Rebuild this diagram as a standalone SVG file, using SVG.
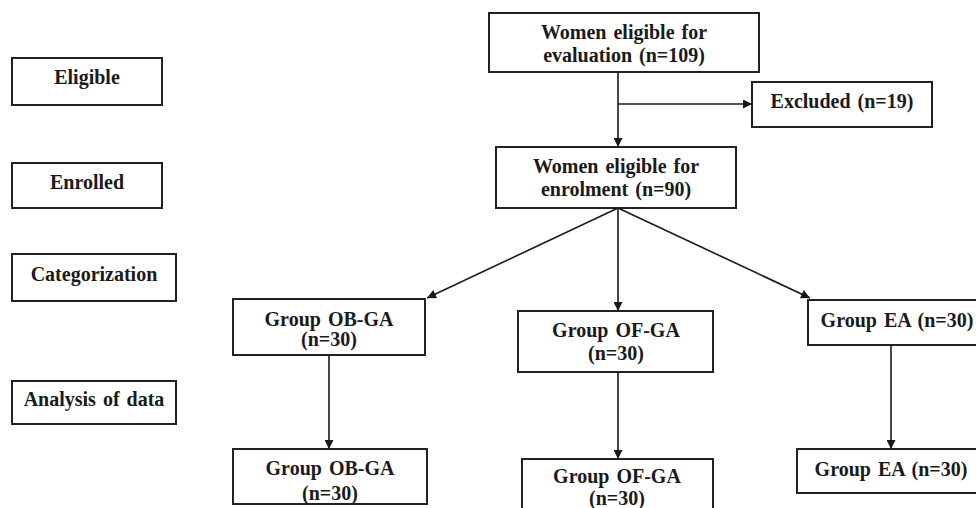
<svg xmlns="http://www.w3.org/2000/svg" width="976" height="508" viewBox="0 0 976 508">
<defs>
<marker id="ah" viewBox="0 0 10 10" refX="10" refY="5" markerWidth="10" markerHeight="9" markerUnits="userSpaceOnUse" orient="auto">
<path d="M0,0 L10,5 L0,10 Z" fill="#1a1a1a"/>
</marker>
</defs>
<style>
rect{fill:#fff;stroke:#222;stroke-width:2}
text{font-family:'Liberation Serif','Times New Roman','DejaVu Serif',serif;font-weight:bold;font-size:20px;fill:#1a1a1a;text-anchor:middle;word-spacing:2px}
.c line{stroke:#1a1a1a;stroke-width:1.6;marker-end:url(#ah)}
</style>
<rect x="0" y="0" width="976" height="508" style="stroke:none"/>
<g id="label-eligible"><rect x="12" y="58" width="150" height="47"/><text x="87" y="84" font-family="Liberation Serif, serif">Eligible</text></g>
<g id="label-enrolled"><rect x="12" y="163" width="150" height="45"/><text x="87" y="189">Enrolled</text></g>
<g id="label-categorization"><rect x="12" y="254" width="164" height="47"/><text x="94" y="281">Categorization</text></g>
<g id="label-analysis"><rect x="12" y="381" width="164" height="43"/><text x="94" y="406">Analysis of data</text></g>
<g id="evaluation"><rect x="489" y="13" width="270" height="59"/><text x="624" y="39">Women eligible for</text><text x="624" y="62">evaluation (n=109)</text></g>
<g id="excluded"><rect x="752" y="82" width="180" height="45"/><text x="842" y="108">Excluded (n=19)</text></g>
<g id="enrolment"><rect x="496" y="147" width="240" height="61"/><text x="616" y="173">Women eligible for</text><text x="616" y="196">enrolment (n=90)</text></g>
<g id="ob-ga"><rect x="233" y="299" width="192" height="56"/><text x="329" y="326">Group OB-GA</text><text x="329" y="346">(n=30)</text></g>
<g id="of-ga"><rect x="518" y="311" width="195" height="61"/><text x="616" y="337">Group OF-GA</text><text x="616" y="360">(n=30)</text></g>
<g id="ea"><rect x="808" y="300" width="190" height="45"/><text x="897" y="327">Group EA (n=30)</text></g>
<g id="ob-ga-analysis"><rect x="233" y="449" width="194" height="55"/><text x="330" y="475">Group OB-GA</text><text x="330" y="500">(n=30)</text></g>
<g id="of-ga-analysis"><rect x="522" y="459" width="191" height="60"/><text x="617" y="483">Group OF-GA</text><text x="617" y="505">(n=30)</text></g>
<g id="ea-analysis"><rect x="797" y="449" width="200" height="44"/><text x="891" y="476">Group EA (n=30)</text></g>
<g id="connectors" class="c">
<line x1="618" y1="72" x2="618" y2="147"/>
<line x1="618" y1="104" x2="752" y2="104"/>
<line x1="618" y1="208" x2="427" y2="298"/>
<line x1="618" y1="208" x2="618" y2="311"/>
<line x1="618" y1="208" x2="810" y2="298"/>
<line x1="329" y1="355" x2="329" y2="449"/>
<line x1="618" y1="372" x2="618" y2="459"/>
<line x1="891" y1="345" x2="891" y2="449"/>
</g>
</svg>
